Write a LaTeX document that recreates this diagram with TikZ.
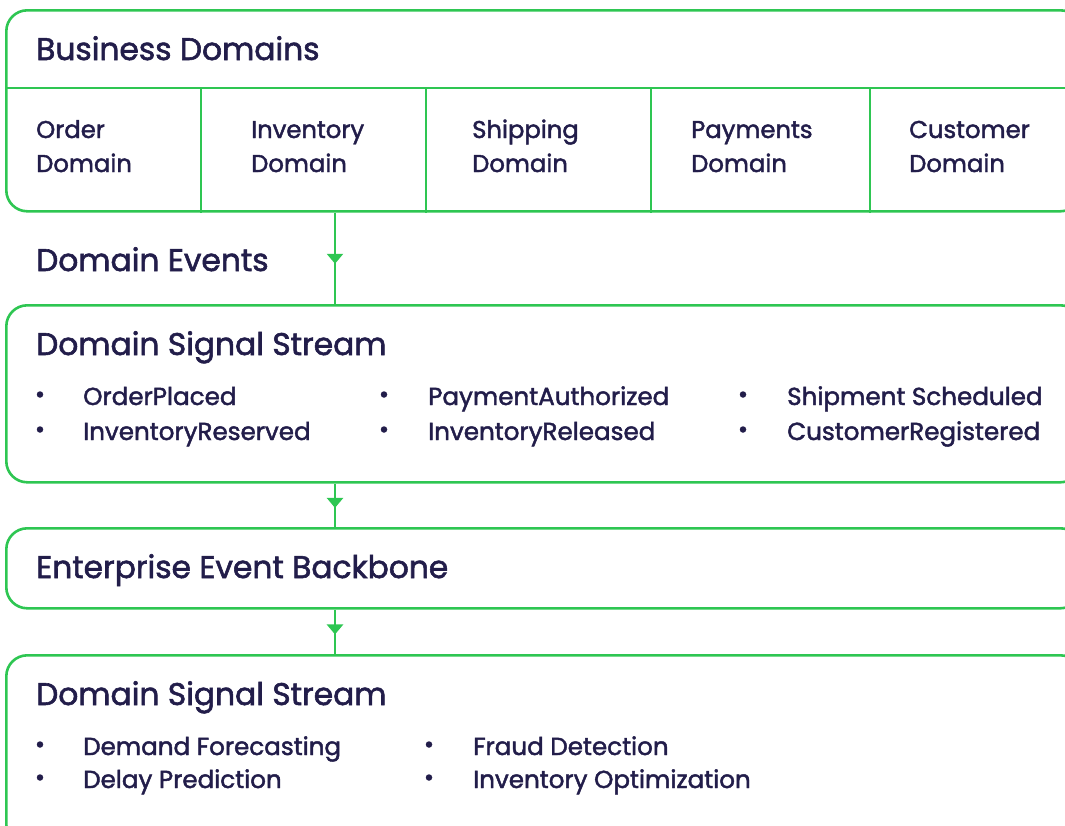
\documentclass[tikz,border=0pt]{standalone}
\usepackage{fontspec}
\setmainfont{Poppins}[RawFeature={embolden=1.8}]
\usetikzlibrary{arrows.meta,decorations.markings}
\definecolor{gr}{HTML}{2EC652}
\definecolor{ink}{HTML}{221D4A}
\begin{document}
\begin{tikzpicture}[x=1pt,y=-1pt,
  panel/.style={draw=gr, line width=2.6pt, rounded corners=21pt, inner sep=0pt, anchor=north west, rectangle},
  divider/.style={draw=gr, line width=2.6pt},
  heading/.style={text=ink, font=\fontsize{31.3}{36}\selectfont, anchor=base west, inner sep=0pt},
  celltxt/.style={text=ink, font=\fontsize{24.3}{28}\selectfont, anchor=base west, inner sep=0pt},
  itemtxt/.style={text=ink, font=\fontsize{24.6}{28}\selectfont, anchor=base west, inner sep=0pt},
  dot/.style={circle, fill=ink, inner sep=0pt, minimum size=6.5pt},
  flow/.style={draw=gr, line width=2.6pt, postaction={decorate}, decoration={markings, mark=at position 0.56 with {\arrow{Triangle[width=16pt,length=10pt]}}}},
]
\useasboundingbox (0,0) rectangle (1065,825);
% panels
\node[panel, minimum width=1075pt, minimum height=201pt] (b1) at (5,9) {};
\node[panel, minimum width=1075pt, minimum height=177pt] (b2) at (5,304) {};
\node[panel, minimum width=1075pt, minimum height=80pt] (b3) at (5,527) {};
\node[panel, minimum width=1075pt, minimum height=190pt] (b4) at (5,654) {};
% business domains grid
\draw[divider] (b1.west |- 0,88) -- (b1.east |- 0,88);
\foreach \x in {201,426,651,870} \draw[divider] (\x,88) -- (\x,0 |- b1.south);
\node[heading] (h1) at (36,60) {Business Domains};
\node[celltxt] (c1a) at (36,138) {Order};
\node[celltxt] (c1b) at (36,172) {Domain};
\node[celltxt] (c2a) at (251,138) {Inventory};
\node[celltxt] (c2b) at (251,172) {Domain};
\node[celltxt] (c3a) at (472,138) {Shipping};
\node[celltxt] (c3b) at (472,172) {Domain};
\node[celltxt] (c4a) at (691,138) {Payments};
\node[celltxt] (c4b) at (691,172) {Domain};
\node[celltxt] (c5a) at (909,138) {Customer};
\node[celltxt] (c5b) at (909,172) {Domain};
% label between
\node[heading] (ev) at (36,271) {Domain Events};
% connectors
\coordinate (ax) at (335,0);
\draw[flow] (ax |- b1.south) -- (ax |- b2.north);
\draw[flow] (ax |- b2.south) -- (ax |- b3.north);
\draw[flow] (ax |- b3.south) -- (ax |- b4.north);
% panel 2
\node[heading] (h2) at (36,355) {Domain Signal Stream};
\node[dot] (d21) at (40,394.5) {};
\node[itemtxt] (i21) at (83,405) {OrderPlaced};
\node[dot] (d22) at (40,429.5) {};
\node[itemtxt] (i22) at (83,440) {InventoryReserved};
\node[dot] (d23) at (384,394.5) {};
\node[itemtxt] (i23) at (428,405) {PaymentAuthorized};
\node[dot] (d24) at (384,429.5) {};
\node[itemtxt] (i24) at (428,440) {InventoryReleased};
\node[dot] (d25) at (743,394.5) {};
\node[itemtxt] (i25) at (787,405) {Shipment Scheduled};
\node[dot] (d26) at (743,429.5) {};
\node[itemtxt] (i26) at (787,440) {CustomerRegistered};
% panel 3
\node[heading] (h3) at (36,578) {Enterprise Event Backbone};
% panel 4
\node[heading] (h4) at (36,705) {Domain Signal Stream};
\node[dot] (d41) at (40,744.5) {};
\node[itemtxt] (i41) at (83,755) {Demand Forecasting};
\node[dot] (d42) at (40,777.5) {};
\node[itemtxt] (i42) at (83,788) {Delay Prediction};
\node[dot] (d43) at (429,744.5) {};
\node[itemtxt] (i43) at (473,755) {Fraud Detection};
\node[dot] (d44) at (429,777.5) {};
\node[itemtxt] (i44) at (473,788) {Inventory Optimization};
\end{tikzpicture}
\end{document}
